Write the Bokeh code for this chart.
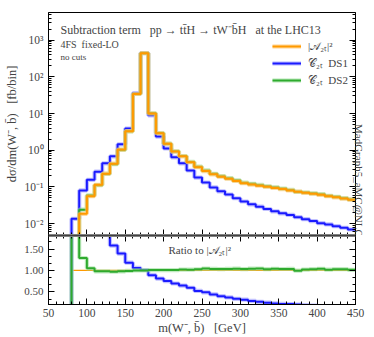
import numpy as np
from bokeh.plotting import figure
from bokeh.layouts import column
from bokeh.models import (Range1d, LogAxis, LinearAxis, FixedTicker, SingleIntervalTicker,
                          CustomJSTickFormatter, PrintfTickFormatter, Label, Legend,
                          LegendItem, Span)
from bokeh.embed import file_html
from bokeh.resources import INLINE

# ---------------- data (bin edges in GeV, values in fb/bin) ----------------
bin_edges = list(range(50, 460, 10))

amp_sq = [0, 0, 0, 0.0005, 0.0185, 0.056, 0.114, 0.23, 0.43, 1.04,
          3.3, 34, 440, 10.0, 2.9, 1.49, 0.92, 0.68, 0.47, 0.345,
          0.27, 0.22, 0.19, 0.167, 0.145, 0.126, 0.116, 0.108, 0.101, 0.094,
          0.087, 0.080, 0.074, 0.069, 0.065, 0.061, 0.056, 0.052, 0.048, 0.045]

ds1 = [0, 0, 0, 0.0135, 0.080, 0.156, 0.26, 0.44, 0.68, 1.45,
       3.9, 36, 445, 8.9, 2.35, 1.12, 0.64, 0.44, 0.28, 0.18,
       0.132, 0.097, 0.076, 0.062, 0.049, 0.040, 0.0336, 0.029, 0.025, 0.0216,
       0.019, 0.0172, 0.0150, 0.0132, 0.0117, 0.0103, 0.0095, 0.0085, 0.0077, 0.0069]

ds2 = [0, 0, 0, 0.002, 0.0239, 0.0588, 0.1117, 0.2254, 0.4171, 1.019,
       3.267, 34, 440, 10.1, 2.93, 1.505, 0.929, 0.694, 0.479, 0.355,
       0.282, 0.228, 0.196, 0.173, 0.151, 0.130, 0.121, 0.113, 0.104, 0.0978,
       0.0900, 0.0828, 0.0736, 0.0704, 0.0670, 0.0634, 0.0571, 0.0536, 0.0494, 0.0457]

NB = "\u00A0"
series_labels = ["|\U0001D49C\u2082\u209C|\u00B2",
                 "\U0001D49E\u2082\u209C" + NB * 2 + "DS1",
                 "\U0001D49E\u2082\u209C" + NB * 2 + "DS2"]

FONT = "Liberation Serif"
C_OR, H_OR = "#ff9a00", "#ffc266"
C_BL, H_BL = "#1a1aff", "#9999ff"
C_GR, H_GR = "#2eaa2e", "#99dd99"

edges = np.array(bin_edges, dtype=float)
a = np.array(amp_sq, dtype=float)
b = np.array(ds1, dtype=float)
g = np.array(ds2, dtype=float)


def step_y(v):
    return np.append(v, v[-1])


def floor(v):
    return np.where(v > 0, v, 1e-6)


def ratio(v):
    return np.where(a > 0, v / np.where(a > 0, a, 1.0), 0.0)


# ---------------- main panel ----------------
p1 = figure(width=374, height=235, x_range=Range1d(50, 450), y_range=Range1d(0.00474, 5650),
            y_axis_type="log", output_backend="svg", toolbar_location=None,
            min_border_left=48, min_border_right=19, min_border_top=12, min_border_bottom=0)
p1.grid.visible = False
p1.outline_line_color = "black"
p1.outline_line_alpha = 1.0

log_major = [1e-2, 1e-1, 1e0, 1e1, 1e2, 1e3]
log_minor = [m * 10.0 ** k for k in range(-3, 4) for m in range(2, 10)]
logticker = FixedTicker(ticks=log_major, minor_ticks=log_minor)
supfmt = CustomJSTickFormatter(code="""
const sup = {'-':'\u207B','0':'\u2070','1':'\u00B9','2':'\u00B2','3':'\u00B3','4':'\u2074',
             '5':'\u2075','6':'\u2076','7':'\u2077','8':'\u2078','9':'\u2079'};
const e = Math.round(Math.log10(tick));
return '10' + String(e).split('').map(c => sup[c]).join('');
""")
blankfmt = CustomJSTickFormatter(code="return ' ';")


def style_axis(ax, labels=True, size="11px"):
    ax.major_tick_in = 6
    ax.major_tick_out = 0
    ax.minor_tick_in = 3
    ax.minor_tick_out = 0
    ax.axis_line_color = "black"
    ax.major_tick_line_color = "black"
    ax.minor_tick_line_color = "black"
    ax.major_label_text_font = FONT
    if labels:
        ax.major_label_text_font_size = size
        ax.major_label_standoff = 5
    else:
        ax.formatter = blankfmt
        ax.major_label_text_font_size = "1px"
        ax.major_label_text_alpha = 0
        ax.major_label_standoff = 0


yl = p1.yaxis[0]
yl.ticker = logticker
yl.formatter = supfmt
style_axis(yl, True, "11.5px")
yl.axis_label = "d\u03C3/dm(W\u207B, b\u0304)" + NB * 3 + "[fb/bin]"
yl.axis_label_text_font = FONT
yl.axis_label_text_font_size = "12.5px"
yl.axis_label_text_font_style = "normal"
yl.axis_label_standoff = 3

yr = LogAxis(ticker=logticker)
style_axis(yr, False)
yr.axis_label = "MadGraph5_aMC@NLO" + NB * 30
yr.axis_label_text_font = FONT
yr.axis_label_text_font_size = "11px"
yr.axis_label_text_font_style = "normal"
yr.axis_label_standoff = 3
try:
    yr.axis_label_orientation = -np.pi / 2
except Exception:
    pass
p1.add_layout(yr, "right")

xb = p1.xaxis[0]
xb.ticker = SingleIntervalTicker(interval=50, num_minor_ticks=5)
style_axis(xb, False)

renderers = {}
for v, c, h, key in [(b, C_BL, H_BL, "b"), (g, C_GR, H_GR, "g"), (a, C_OR, H_OR, "a")]:
    halo = p1.step(edges, step_y(floor(v)), mode="after", line_color=h, line_width=4.2, line_alpha=0.6)
    core = p1.step(edges, step_y(floor(v)), mode="after", line_color=c, line_width=2.0)
    renderers[key] = [halo, core]

legend = Legend(items=[LegendItem(label=series_labels[0], renderers=renderers["a"]),
                       LegendItem(label=series_labels[1], renderers=renderers["b"]),
                       LegendItem(label=series_labels[2], renderers=renderers["g"])],
                location=(224, 148), glyph_width=29, glyph_height=14, label_height=14,
                spacing=2, padding=0, margin=0, label_standoff=7,
                border_line_alpha=0, background_fill_alpha=0,
                label_text_font=FONT, label_text_font_size="11px")
p1.add_layout(legend)

p1.add_layout(Label(x=12, y=206, x_units="screen", y_units="screen",
                    text="Subtraction term" + NB * 3 + "pp \u2192 tt\u0304H \u2192 tW\u207Bb\u0304H"
                         + NB * 3 + "at the LHC13",
                    text_font=FONT, text_font_size="12px", text_baseline="alphabetic"))
p1.add_layout(Label(x=12, y=191.5, x_units="screen", y_units="screen", text="4FS" + NB * 2 + "fixed-LO",
                    text_font=FONT, text_font_size="10px", text_baseline="alphabetic"))
p1.add_layout(Label(x=12, y=179, x_units="screen", y_units="screen", text="no cuts",
                    text_font=FONT, text_font_size="9px", text_baseline="alphabetic"))
p1.add_layout(Span(location=0.00474, dimension="width", line_color="#808080", line_width=3))

# ---------------- ratio panel ----------------
p2 = figure(width=374, height=102, x_range=p1.x_range, y_range=Range1d(0.205, 1.817),
            output_backend="svg", toolbar_location=None,
            min_border_left=48, min_border_right=19, min_border_top=0, min_border_bottom=0)
p2.grid.visible = False
p2.outline_line_color = "black"
p2.outline_line_alpha = 1.0

rticker = SingleIntervalTicker(interval=0.5, num_minor_ticks=3)
ry = p2.yaxis[0]
ry.ticker = rticker
ry.formatter = PrintfTickFormatter(format="%.2f")
style_axis(ry, True, "11px")
ryr = LinearAxis(ticker=rticker)
style_axis(ryr, False)
p2.add_layout(ryr, "right")

xticker = SingleIntervalTicker(interval=50, num_minor_ticks=5)
rx = p2.xaxis[0]
rx.ticker = xticker
style_axis(rx, True, "11.5px")
rx.major_label_standoff = 4
rx.axis_label = "m(W\u207B, b\u0304)" + NB * 3 + "[GeV]"
rx.axis_label_text_font = FONT
rx.axis_label_text_font_size = "12.5px"
rx.axis_label_text_font_style = "normal"
rx.axis_label_standoff = 1
rxa = LinearAxis(ticker=xticker)
style_axis(rxa, False)
p2.add_layout(rxa, "above")

p2.step(edges, step_y(ratio(a)), mode="after", line_color=C_OR, line_width=1.3)
for v, c, h in [(b, C_BL, H_BL), (g, C_GR, H_GR)]:
    p2.step(edges, step_y(ratio(v)), mode="after", line_color=h, line_width=4.2, line_alpha=0.6)
    p2.step(edges, step_y(ratio(v)), mode="after", line_color=c, line_width=2.0)

p2.add_layout(Label(x=120, y=54.5, x_units="screen", y_units="screen",
                    text="Ratio to |\U0001D49C\u2082\u209C|\u00B2",
                    text_font=FONT, text_font_size="11px", text_baseline="alphabetic"))
p2.add_layout(Span(location=1.817, dimension="width", line_color="#808080", line_width=3))

layout = column(p1, p2, spacing=0)
open("out.html", "w").write(file_html(layout, INLINE))
